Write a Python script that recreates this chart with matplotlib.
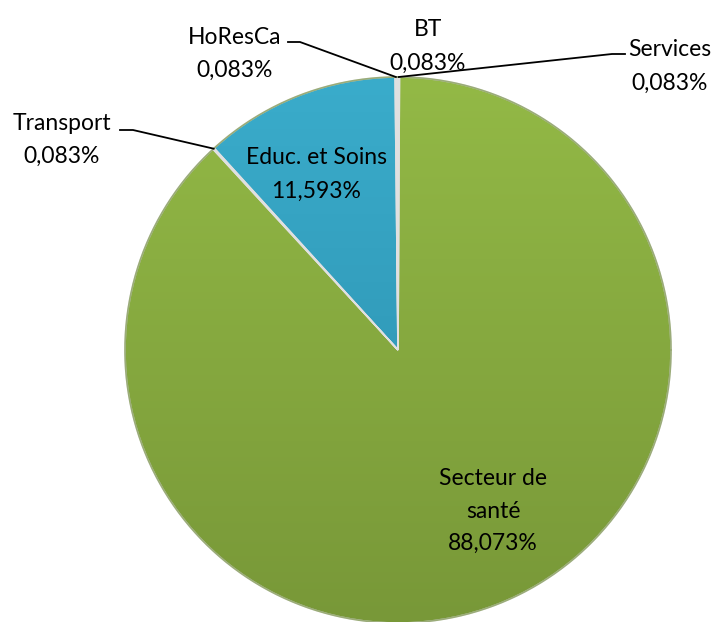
import numpy as np
import matplotlib
matplotlib.use("Agg")
import matplotlib.pyplot as plt
from matplotlib.colors import LinearSegmentedColormap

plt.rcParams['font.family'] = ['Lato', 'DejaVu Sans']

# data, clockwise from 12 o'clock
labels = ['Services', 'Secteur de\nsanté', 'Transport', 'Educ. et Soins', 'HoResCa', 'BT']
values = [0.083, 88.073, 0.083, 11.593, 0.083, 0.083]
pct_text = ['0,083%', '88,073%', '0,083%', '11,593%', '0,083%', '0,083%']

colors = ['#8fb442', '#8aae40', '#8fb442', '#34a2c2', '#34a2c2', '#8fb442']
grad = {
    '#8aae40': ('#93b946', '#789838'),
    '#8fb442': ('#93b946', '#789838'),
    '#34a2c2': ('#3aaccb', '#2a8cab'),
}

W, H = 718, 622
cx, cy, R = 398, 272, 273

fig = plt.figure(figsize=(W / 100, H / 100), dpi=100)
ax = fig.add_axes([0, 0, 1, 1])
ax.set_xlim(0, W)
ax.set_ylim(0, H)
ax.set_aspect('equal')
ax.axis('off')

wedges, _ = ax.pie(values, colors=colors, startangle=90, counterclock=False,
                   center=(cx, cy), radius=R, frame=True,
                   wedgeprops=dict(edgecolor='#e0e0e0', linewidth=1.2))

# vertical gradient shading inside each wedge
for w, c in zip(wedges, colors):
    top, bot = grad[c]
    cmap = LinearSegmentedColormap.from_list('g', [bot, top])
    g = np.linspace(0, 1, 256).reshape(-1, 1)
    im = ax.imshow(g, cmap=cmap, origin='lower', aspect='auto',
                   extent=(cx - R, cx + R, cy - R, cy + R), zorder=w.get_zorder())
    im.set_clip_path(w)
    w.set_facecolor('none')
    w.set_zorder(w.get_zorder() + 0.1)

# darker rim around the pie
t = np.linspace(0, 2 * np.pi, 400)
ax.plot(cx + R * np.cos(t), cy + R * np.sin(t), color='#6d8a34', lw=1.2, alpha=0.6, zorder=3)

ax.set_xlim(0, W)
ax.set_ylim(0, H)

# label positions (image pixels, y from top)
pos = {
    'Services': (670, 50),
    'Secteur de\nsanté': (493, 511),
    'Transport': (62, 123),
    'Educ. et Soins': (316, 158),
    'HoResCa': (235, 37),
    'BT': (428, 30),
}
fs = 16.5
for w, lab, pt in zip(wedges, labels, pct_text):
    x, y = pos[lab]
    if lab == 'Secteur de\nsanté':
        ax.text(x, H - y, lab + '\n' + pt, ha='center', va='center',
                fontsize=fs, linespacing=1.68, zorder=10)
    else:
        ax.text(x, H - y, lab, ha='center', va='center', fontsize=fs, zorder=10)
        ax.text(x, H - y - 33, pt, ha='center', va='center', fontsize=fs, zorder=10)

# leader lines from small slices
th_mid = {lab: np.deg2rad((w.theta1 + w.theta2) / 2) for w, lab in zip(wedges, labels)}
leaders = {
    'Services': [(625, 54), (612, 54)],
    'Transport': [(120, 130), (133, 130)],
    'HoResCa': [(288, 42), (300, 42)],
}
for lab, pts in leaders.items():
    t = th_mid[lab]
    ex, ey = cx + R * np.cos(t), cy + R * np.sin(t)
    xs = [p[0] for p in pts] + [ex]
    ys = [H - p[1] for p in pts] + [ey]
    ax.plot(xs, ys, color='black', lw=1.3, zorder=9)

fig.savefig('out.png', dpi=100)
